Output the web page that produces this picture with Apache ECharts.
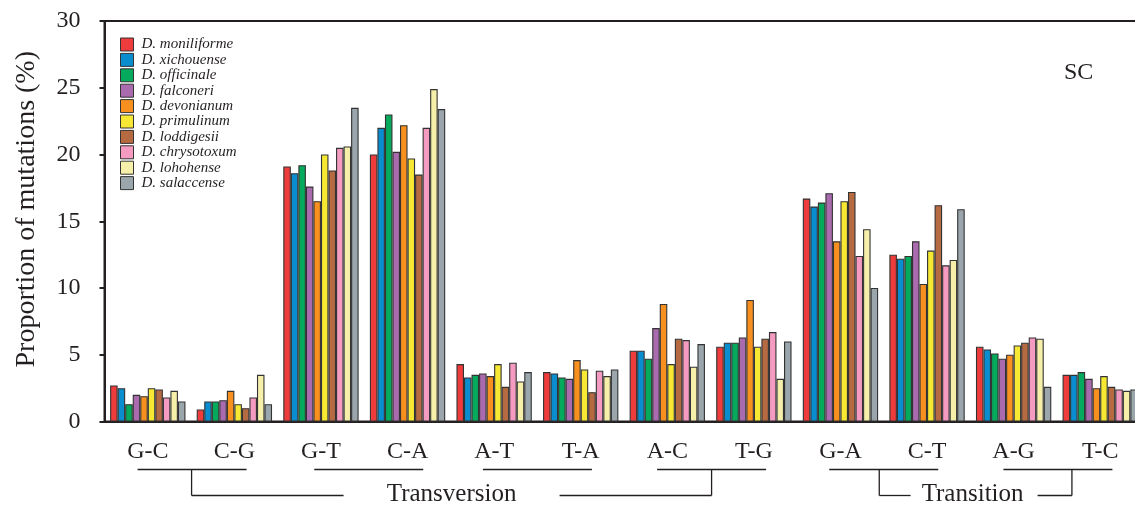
<!DOCTYPE html>
<html>
<head>
<meta charset="utf-8">
<script src="https://cdn.jsdelivr.net/npm/echarts@6/dist/echarts.min.js"></script>
<style>
  html, body { margin: 0; padding: 0; background: #fff; }
  #main { width: 1135px; height: 507px; }
</style>
</head>
<body>
<div id="main"></div>
<script type="text/javascript">
    // mutation types (x axis)
    var categories = ['G-C', 'C-G', 'G-T', 'C-A', 'A-T', 'T-A', 'A-C', 'T-G', 'G-A', 'C-T', 'A-G', 'T-C'];
    var species = ['D. moniliforme', 'D. xichouense', 'D. officinale', 'D. falconeri', 'D. devonianum',
                   'D. primulinum', 'D. loddigesii', 'D. chrysotoxum', 'D. lohohense', 'D. salaccense'];
    var colors = ['#ee3b3b', '#0a8dcf', '#05aa5c', '#a96aae', '#f7901e', '#f6e833', '#b66a42', '#f59bc2', '#f6efaa', '#9aa6ab'];

    // proportion of mutations (%) per species
    var moniliforme = [2.7, 0.9, 19.1, 20.0, 4.3, 3.7, 5.3, 5.6, 16.7, 12.5, 5.6, 3.5];
    var xichouense  = [2.5, 1.5, 18.6, 22.0, 3.3, 3.6, 5.3, 5.9, 16.1, 12.2, 5.4, 3.5];
    var officinale  = [1.3, 1.5, 19.2, 23.0, 3.5, 3.3, 4.7, 5.9, 16.4, 12.4, 5.1, 3.7];
    var falconeri   = [2.0, 1.6, 17.6, 20.2, 3.6, 3.2, 7.0, 6.3, 17.1, 13.5, 4.7, 3.2];
    var devonianum  = [1.9, 2.3, 16.5, 22.2, 3.4, 4.6, 8.8, 9.1, 13.5, 10.3, 5.0, 2.5];
    var primulinum  = [2.5, 1.3, 20.0, 19.7, 4.3, 3.9, 4.3, 5.6, 16.5, 12.8, 5.7, 3.4];
    var loddigesii  = [2.4, 1.0, 18.8, 18.5, 2.6, 2.2, 6.2, 6.2, 17.2, 16.2, 5.9, 2.6];
    var chrysotoxum = [1.8, 1.8, 20.5, 22.0, 4.4, 3.8, 6.1, 6.7, 12.4, 11.7, 6.3, 2.4];
    var lohohense   = [2.3, 3.5, 20.6, 24.9, 3.0, 3.4, 4.1, 3.2, 14.4, 12.1, 6.2, 2.3];
    var salaccense  = [1.5, 1.3, 23.5, 23.4, 3.7, 3.9, 5.8, 6.0, 10.0, 15.9, 2.6, 2.4];
    var values = [moniliforme, xichouense, officinale, falconeri, devonianum,
                  primulinum, loddigesii, chrysotoxum, lohohense, salaccense];

    var yTicks = [0, 5, 10, 15, 20, 25, 30];

    var serif = 'Liberation Serif';
    var ink = '#231f20';

    var myChart = echarts.init(document.getElementById('main'));

    var series = species.map(function (name, i) {
        return {
            name: name,
            type: 'bar',
            data: values[i],
            barGap: '0%',
            barCategoryGap: '13%',
            itemStyle: { color: colors[i], borderColor: '#333', borderWidth: 1.1 }
        };
    });

    var option = {
        animation: false,
        title: {
            text: 'SC',
            left: 1059,
            top: 56,
            textStyle: { fontFamily: serif, fontSize: 24, fontWeight: 'normal', color: ink }
        },
        legend: {
            orient: 'vertical',
            left: 120,
            top: 37,
            padding: 0,
            itemWidth: 13,
            itemHeight: 13,
            itemGap: 0.4,
            icon: 'rect',
            itemStyle: { borderColor: '#333', borderWidth: 1 },
            textStyle: { fontFamily: serif, fontStyle: 'italic', fontSize: 15, color: ink, padding: [0, 0, 0, 3] },
            data: species
        },
        grid: {
            left: 104.5,
            top: 21,
            width: 1039,
            bottom: 85.5,
            outerBoundsMode: 'none',
            containLabel: false,
            show: true,
            borderColor: ink,
            borderWidth: 2
        },
        xAxis: {
            type: 'category',
            data: categories,
            axisLine: { lineStyle: { color: ink, width: 2 } },
            axisTick: { length: 8, lineStyle: { color: ink, width: 2 } },
            axisLabel: { margin: 18, fontFamily: serif, fontSize: 24, color: ink, interval: 0 }
        },
        yAxis: {
            type: 'value',
            min: yTicks[0],
            max: yTicks[yTicks.length - 1],
            interval: 5,
            name: 'Proportion of mutations (%)',
            nameLocation: 'middle',
            nameGap: 64,
            nameTextStyle: { fontFamily: serif, fontSize: 28, color: ink, padding: [0, 0, 0, 24] },
            splitLine: { show: false },
            axisLine: { show: true, lineStyle: { color: ink, width: 2 } },
            axisTick: { show: true, length: 5, lineStyle: { color: ink, width: 2 } },
            axisLabel: { margin: 24, fontFamily: serif, fontSize: 24, color: ink }
        },
        series: series
    };

    myChart.setOption(option);

    // brackets under the axis, placed on category boundaries
    var c0 = myChart.convertToPixel({ xAxisIndex: 0 }, 0);
    var c1 = myChart.convertToPixel({ xAxisIndex: 0 }, 1);
    var band = c1 - c0;
    function edge(k) { return c0 - band / 2 + k * band; }

    var yPair = 469.5, yBot = 495.5, lineSty = { stroke: ink, lineWidth: 1.3 };
    var els = [];
    function seg(x1, y1, x2, y2) {
        els.push({ type: 'line', shape: { x1: x1, y1: y1, x2: x2, y2: y2 }, style: lineSty, silent: true });
    }
    var pairShift = [1, 4.5, 0, 1, 0, 1];
    [1, 3, 5, 7, 9, 11].forEach(function (k, j) {
        var m = edge(k) + pairShift[j];
        seg(m - 54.5, yPair, m + 54.5, yPair);
    });
    // Transversion
    var tvL = edge(1) + 0.5, tvR = edge(7) + 1, tvM = (tvL + tvR) / 2;
    seg(tvL, yPair, tvL, yBot); seg(tvR, yPair, tvR, yBot);
    seg(tvL, yBot, tvM - 108, yBot); seg(tvM + 108, yBot, tvR, yBot);
    els.push({ type: 'text', x: tvM, y: yBot - 1, silent: true,
        style: { text: 'Transversion', fill: ink, font: '25px "Liberation Serif"', align: 'center', verticalAlign: 'middle' } });
    // Transition
    var tsL = edge(9) - 4.5, tsR = edge(11) + 15, tsM = (tsL + tsR) / 2;
    seg(tsL, yPair, tsL, yBot); seg(tsR, yPair, tsR, yBot);
    seg(tsL, yBot, tsM - 65, yBot); seg(tsM + 62, yBot, tsR, yBot);
    els.push({ type: 'text', x: tsM - 3, y: yBot - 1, silent: true,
        style: { text: 'Transition', fill: ink, font: '25px "Liberation Serif"', align: 'center', verticalAlign: 'middle' } });

    myChart.setOption({ graphic: { elements: els } });
</script>
</body>
</html>
